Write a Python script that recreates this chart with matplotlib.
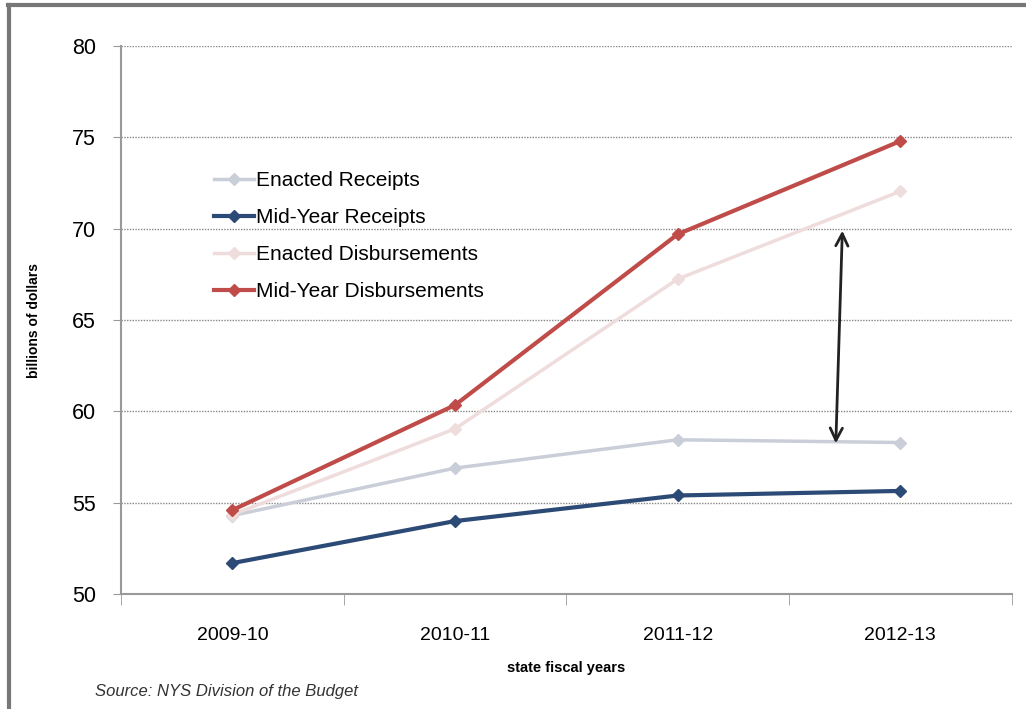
import matplotlib
matplotlib.use("Agg")
import matplotlib.pyplot as plt
from matplotlib.lines import Line2D

plt.rcParams['font.family'] = ['Liberation Sans', 'DejaVu Sans']

years = ['2009-10', '2010-11', '2011-12', '2012-13']
enacted_receipts = [54.3, 56.9, 58.45, 58.3]
midyear_receipts = [51.7, 54.0, 55.4, 55.65]
enacted_disb = [54.35, 59.05, 67.25, 72.05]
midyear_disb = [54.6, 60.35, 69.7, 74.8]

labels = ['Enacted Receipts', 'Mid-Year Receipts',
          'Enacted Disbursements', 'Mid-Year Disbursements']
colors = ['#c9ced8', '#2c4a76', '#efdcdc', '#bf4c48']
widths = [2.5, 3, 2.5, 3]

fig = plt.figure(figsize=(10.26, 7.09), dpi=100)
ax = fig.add_axes([0.118, 0.162, 0.868, 0.773])

x = range(len(years))
series = [enacted_receipts, midyear_receipts, enacted_disb, midyear_disb]
for vals, lab, c, lw in zip(series, labels, colors, widths):
    ax.plot(x, vals, color=c, lw=lw, marker='D', ms=6, mec=c, mfc=c, label=lab)

ax.set_xlim(-0.5, 3.5)
ax.set_ylim(50, 80)
ax.set_yticks(range(50, 81, 5))
ax.set_xticks(list(x))
ax.set_xticklabels(years)
ax.set_xticks([-0.5, 0.5, 1.5, 2.5, 3.5], minor=True)
ax.tick_params(axis='x', which='major', length=0, pad=24, labelsize=14)
ax.tick_params(axis='x', which='minor', length=8, color='#999999', direction='out')
ax.tick_params(axis='y', length=6, color='#999999', labelsize=15.5, pad=12)

ax.grid(axis='y', linestyle=(0, (1, 1)), color='#888888', lw=1)
ax.set_axisbelow(True)
for s in ['top', 'right']:
    ax.spines[s].set_visible(False)
for s in ['left', 'bottom']:
    ax.spines[s].set_color('#999999')
    ax.spines[s].set_linewidth(1.5)

ax.set_ylabel('billions of dollars', fontsize=10, fontweight='bold', labelpad=22)
ax.set_xlabel('state fiscal years', fontsize=10.5, fontweight='bold', labelpad=12)

# double-headed arrow showing the gap
ax.annotate('', xy=(2.74, 70.05), xytext=(2.71, 58.1),
            arrowprops=dict(arrowstyle='<->', color='#222222', lw=2,
                            mutation_scale=22))

leg = ax.legend(loc='upper left', bbox_to_anchor=(0.095, 0.787), frameon=False,
                fontsize=15, handlelength=1.9, handletextpad=0.1,
                labelspacing=0.86, borderaxespad=0)

fig.text(0.093, 0.018, 'Source: NYS Division of the Budget', fontsize=12,
         style='italic', color='#333333')

# outer frame of the original slide
fig.add_artist(Line2D([0.008, 1.0], [0.993, 0.993], transform=fig.transFigure,
                      color='#777777', lw=3))
fig.add_artist(Line2D([0.009, 0.009], [0.0, 0.993], transform=fig.transFigure,
                      color='#777777', lw=3))

fig.savefig('out.png', dpi=100)
